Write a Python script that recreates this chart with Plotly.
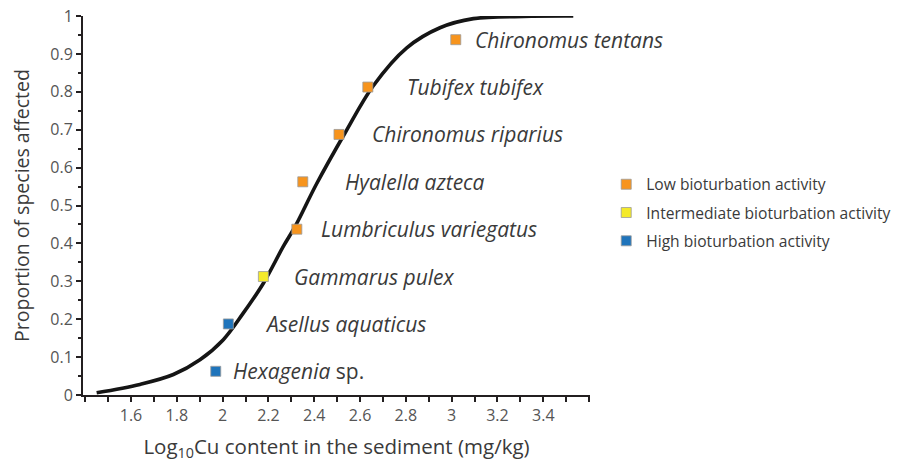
import plotly.graph_objects as go

# ---- data ----
species = ["Chironomus tentans", "Tubifex tubifex", "Chironomus riparius",
           "Hyalella azteca", "Lumbriculus variegatus", "Gammarus pulex",
           "Asellus aquaticus", "Hexagenia sp."]
species_text = ["<i>Chironomus tentans</i>", "<i>Tubifex tubifex</i>", "<i>Chironomus riparius</i>",
                "<i>Hyalella azteca</i>", "<i>Lumbriculus variegatus</i>", "<i>Gammarus pulex</i>",
                "<i>Asellus aquaticus</i>", "<i>Hexagenia</i> sp."]
log_cu = [3.018, 2.634, 2.508, 2.350, 2.324, 2.178, 2.025, 1.970]
proportion = [0.9375, 0.8125, 0.6875, 0.5625, 0.4375, 0.3125, 0.1875, 0.0625]
activity = ["Low", "Low", "Low", "Low", "Low", "Intermediate", "High", "High"]

curve_x = [1.450, 1.639, 1.785, 1.901, 2.003, 2.090, 2.178, 2.265, 2.316,
           2.411, 2.535, 2.658, 2.804, 2.949, 3.095, 3.313, 3.531]
curve_y = [0.006, 0.028, 0.054, 0.093, 0.146, 0.216, 0.295, 0.392, 0.444,
           0.558, 0.692, 0.816, 0.916, 0.969, 0.993, 0.999, 1.000]

groups = ["Low", "Intermediate", "High"]
group_names = ["Low bioturbation activity", "Intermediate bioturbation activity",
               "High bioturbation activity"]

x_ticks = [1.6, 1.8, 2.0, 2.2, 2.4, 2.6, 2.8, 3.0, 3.2, 3.4]
x_ticklabels = ["1.6", "1.8", "2", "2.2", "2.4", "2.6", "2.8", "3", "3.2", "3.4"]
y_ticks = [0, 0.1, 0.2, 0.3, 0.4, 0.5, 0.6, 0.7, 0.8, 0.9, 1]
y_ticklabels = ["0", "0.1", "0.2", "0.3", "0.4", "0.5", "0.6", "0.7", "0.8", "0.9", "1"]

# ---- styles ----
group_colors = {"Low": "#F7941D", "Intermediate": "#F4EA2A", "High": "#1F74BB"}
label_shift_px = [17, 37, 31, 40, 22, 29, 35, 15]
FONT = "'Open Sans', Lato, sans-serif"
TEXT_COLOR = "#3a3a3a"

fig = go.Figure()

fig.add_trace(go.Scatter(
    x=curve_x, y=curve_y, mode="lines",
    line=dict(color="#151515", width=3.6, shape="spline", smoothing=1.0),
    showlegend=False, hoverinfo="skip", cliponaxis=False,
))

for g, name in zip(groups, group_names):
    xs = [x for x, a in zip(log_cu, activity) if a == g]
    ys = [y for y, a in zip(proportion, activity) if a == g]
    fig.add_trace(go.Scatter(
        x=xs, y=ys, mode="markers", name=name, legendgroup=g,
        marker=dict(symbol="square", size=10, color=group_colors[g],
                    line=dict(color="#9a9a9a", width=0.8)),
        cliponaxis=False,
    ))

for x, y, t, s in zip(log_cu, proportion, species_text, label_shift_px):
    fig.add_annotation(x=x, y=y, text=t, showarrow=False, xanchor="left",
                       yanchor="middle", xshift=s,
                       font=dict(family=FONT, size=21, color=TEXT_COLOR))

axis_common = dict(
    showline=True, linecolor="#231F20", linewidth=2,
    ticks="outside", tickcolor="#231F20", tickwidth=1.6,
    showgrid=False, zeroline=False, ticklabeloverflow="allow",
    tickfont=dict(family=FONT, size=16, color="#555555"),
)

fig.update_xaxes(
    range=[1.3904, 3.604], tickvals=x_ticks, ticktext=x_ticklabels, ticklen=5,
    minor=dict(dtick=0.1, tick0=1.5, ticks="outside", ticklen=5, tickcolor="#231F20", tickwidth=1.6),
    title=dict(text="Log<sub>10</sub>Cu content in the sediment (mg/kg)",
               font=dict(family=FONT, size=20.5, color=TEXT_COLOR), standoff=14),
    **axis_common,
)
fig.update_yaxes(
    range=[0, 1], tickvals=y_ticks, ticktext=y_ticklabels, ticklen=5,
    minor=dict(dtick=0.05, tick0=0, ticks="outside", ticklen=3, tickcolor="#231F20", tickwidth=1.6),
    title=dict(text="Proportion of species affected",
               font=dict(family=FONT, size=19.5, color=TEXT_COLOR), standoff=17),
    **axis_common,
)

fig.update_layout(
    width=908, height=468,
    margin=dict(l=75, r=326, t=7.5, b=80.5, autoexpand=False),
    paper_bgcolor="white", plot_bgcolor="white",
    showlegend=True,
    legend=dict(x=1.032, y=0.60, xanchor="left", yanchor="top",
                traceorder="grouped", tracegroupgap=5,
                font=dict(family=FONT, size=15.6, color=TEXT_COLOR),
                bgcolor="rgba(0,0,0,0)"),
)

fig.write_html("out.html")
